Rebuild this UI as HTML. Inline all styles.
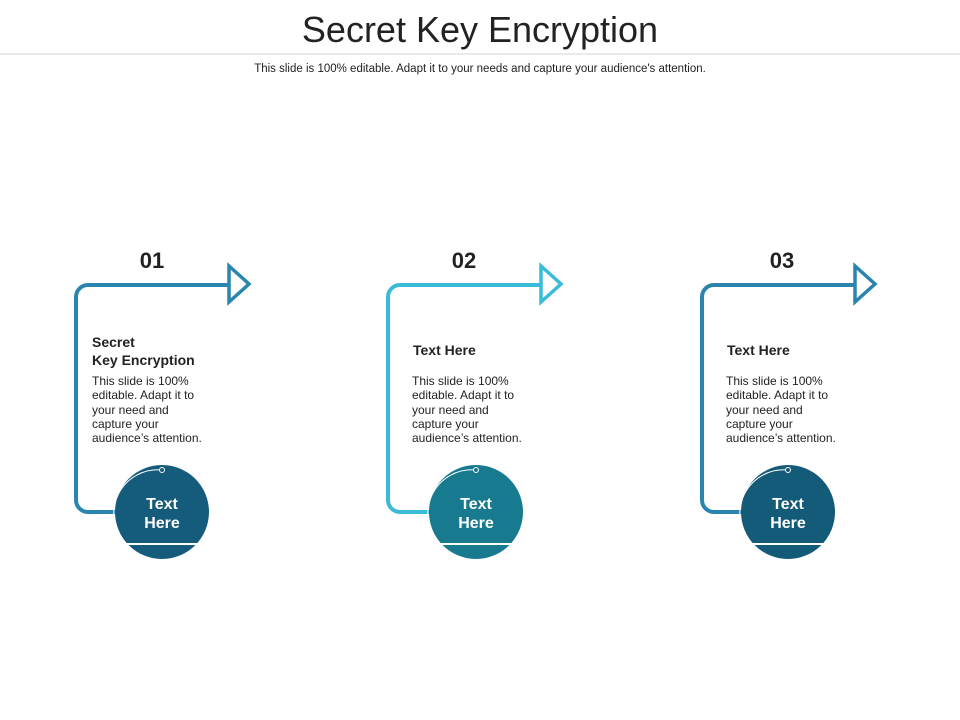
<!DOCTYPE html>
<html><head><meta charset="utf-8"><style>
html,body{margin:0;padding:0;background:#fff;}
svg{display:block;font-family:"Liberation Sans",Arial,sans-serif;}
</style></head><body>
<svg width="960" height="720" viewBox="0 0 960 720" xmlns="http://www.w3.org/2000/svg">
<text x="480" y="42" text-anchor="middle" font-size="36" fill="#222">Secret Key Encryption</text>
<line x1="0" y1="54" x2="960" y2="54" stroke="#d6d6d6" stroke-width="1"/>
<text x="480" y="72" text-anchor="middle" font-size="11.5" fill="#222">This slide is 100% editable. Adapt it to your needs and capture your audience's attention.</text>

<g transform="translate(0,0)">
<path d="M118,512 H88 A12,12 0 0 1 76,500 V297 A12,12 0 0 1 88,285 H228" fill="none" stroke="#2a86ae" stroke-width="4"/>
<polygon points="229,266 249,284 229,302" fill="#fff" stroke="#2a86ae" stroke-width="3.5"/>
<text x="152" y="268" text-anchor="middle" font-size="22" font-weight="bold" fill="#222">01</text>
<text x="92" y="347" font-size="14" font-weight="bold" fill="#222">Secret</text>
<text x="92" y="365" font-size="14" font-weight="bold" fill="#222">Key Encryption</text>
<g font-size="12" fill="#222"><text x="92" y="385">This slide is 100%</text><text x="92" y="399">editable. Adapt it to</text><text x="92" y="414">your need and</text><text x="92" y="428">capture your</text><text x="92" y="442">audience’s attention.</text></g>
<circle cx="162" cy="512" r="47" fill="#155b7b"/>
<line x1="110" y1="544" x2="214" y2="544" stroke="#fff" stroke-width="2"/>
<path d="M162,470 A44,44 0 0 0 124,542" fill="none" stroke="#fff" stroke-width="1"/>
<circle cx="162" cy="470" r="2.5" fill="#155b7b" stroke="#fff" stroke-width="1"/>
<text x="162" y="509" text-anchor="middle" font-size="16" font-weight="bold" fill="#fff">Text</text>
<text x="162" y="528" text-anchor="middle" font-size="16" font-weight="bold" fill="#fff">Here</text>
</g>

<g transform="translate(312,0)">
<path d="M118,512 H88 A12,12 0 0 1 76,500 V297 A12,12 0 0 1 88,285 H228" fill="none" stroke="#3bbbd7" stroke-width="4"/>
<polygon points="229,266 249,284 229,302" fill="#fff" stroke="#3bbbd7" stroke-width="3.5"/>
<text x="152" y="268" text-anchor="middle" font-size="22" font-weight="bold" fill="#222">02</text>
<text x="101" y="355" font-size="14" font-weight="bold" fill="#222">Text Here</text>
<g font-size="12" fill="#222"><text x="100" y="385">This slide is 100%</text><text x="100" y="399">editable. Adapt it to</text><text x="100" y="414">your need and</text><text x="100" y="428">capture your</text><text x="100" y="442">audience’s attention.</text></g>
<circle cx="164" cy="512" r="47" fill="#177a8e"/>
<line x1="112" y1="544" x2="216" y2="544" stroke="#fff" stroke-width="2"/>
<path d="M164,470 A44,44 0 0 0 126,542" fill="none" stroke="#fff" stroke-width="1"/>
<circle cx="164" cy="470" r="2.5" fill="#177a8e" stroke="#fff" stroke-width="1"/>
<text x="164" y="509" text-anchor="middle" font-size="16" font-weight="bold" fill="#fff">Text</text>
<text x="164" y="528" text-anchor="middle" font-size="16" font-weight="bold" fill="#fff">Here</text>
</g>

<g transform="translate(626,0)">
<path d="M118,512 H88 A12,12 0 0 1 76,500 V297 A12,12 0 0 1 88,285 H228" fill="none" stroke="#2a84ad" stroke-width="4"/>
<polygon points="229,266 249,284 229,302" fill="#fff" stroke="#2a84ad" stroke-width="3.5"/>
<text x="156" y="268" text-anchor="middle" font-size="22" font-weight="bold" fill="#222">03</text>
<text x="101" y="355" font-size="14" font-weight="bold" fill="#222">Text Here</text>
<g font-size="12" fill="#222"><text x="100" y="385">This slide is 100%</text><text x="100" y="399">editable. Adapt it to</text><text x="100" y="414">your need and</text><text x="100" y="428">capture your</text><text x="100" y="442">audience’s attention.</text></g>
<circle cx="162" cy="512" r="47" fill="#145a79"/>
<line x1="110" y1="544" x2="214" y2="544" stroke="#fff" stroke-width="2"/>
<path d="M162,470 A44,44 0 0 0 124,542" fill="none" stroke="#fff" stroke-width="1"/>
<circle cx="162" cy="470" r="2.5" fill="#145a79" stroke="#fff" stroke-width="1"/>
<text x="162" y="509" text-anchor="middle" font-size="16" font-weight="bold" fill="#fff">Text</text>
<text x="162" y="528" text-anchor="middle" font-size="16" font-weight="bold" fill="#fff">Here</text>
</g>
</svg>
</body></html>
